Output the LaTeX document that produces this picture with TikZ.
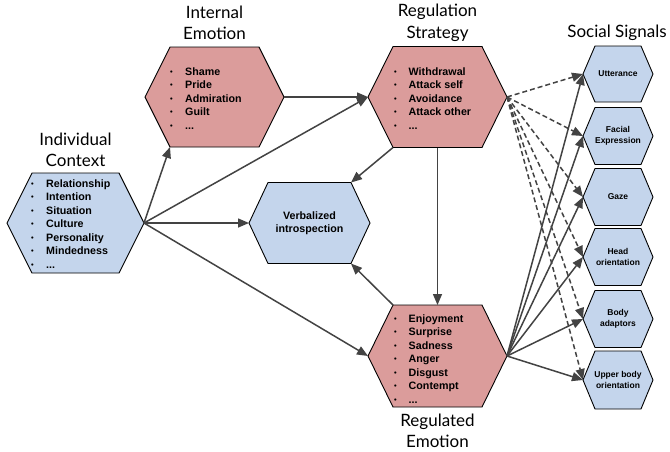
\documentclass[tikz,border=0pt]{standalone}
\usepackage{fontspec}
\setmainfont{Liberation Sans}
\newfontfamily\latofont{Lato}
\usetikzlibrary{arrows.meta}
\definecolor{pinkfill}{HTML}{DB9C9B}
\definecolor{bluefill}{HTML}{C4D5EC}
\definecolor{arrowgray}{HTML}{434343}

\newcommand\hexat[6]{%
  \path (#2,#3) coordinate (#1)
    +(-#4,0) coordinate (#1-l)
    +({-#4+#6},{-#5}) coordinate (#1-tl)
    +({#4-#6},{-#5}) coordinate (#1-tr)
    +(#4,0) coordinate (#1-r)
    +({#4-#6},{#5}) coordinate (#1-br)
    +({-#4+#6},{#5}) coordinate (#1-bl)
    +(0,{-#5}) coordinate (#1-t)
    +(0,{#5}) coordinate (#1-b);
}
\newcommand\hexdraw[2]{%
  \draw[#2] (#1-l) -- (#1-tl) -- (#1-tr) -- (#1-r) -- (#1-br) -- (#1-bl) -- cycle;
}
\newcommand\bt{\raisebox{0.9pt}{\fontsize{7.5}{8}\selectfont\textbullet}}

\begin{document}
\begin{tikzpicture}[x=1pt,y=-1pt,
  hexpink/.style={fill=pinkfill,draw=black,line width=0.9pt,line join=miter},
  hexblue/.style={fill=bluefill,draw=black,line width=0.9pt,line join=miter},
  heading/.style={font=\latofont\fontsize{17}{21.5}\selectfont,align=center,inner sep=0pt},
  listtext/.style={font=\bfseries\fontsize{10.7}{13.5}\selectfont,inner sep=0pt,anchor=base west},
  bigtext/.style={font=\bfseries\fontsize{10.7}{13.5}\selectfont,align=center,inner sep=0pt},
  smalltext/.style={font=\bfseries\fontsize{8.5}{11.5}\selectfont,align=center,inner sep=0pt},
  conn/.style={draw=arrowgray,line width=1.5pt,-{Triangle[length=11pt,width=9pt]}},
  dconn/.style={conn,dash pattern=on 5pt off 3pt}
]
\useasboundingbox (0,0) rectangle (670,451);

% hexagon geometry
\hexat{ic}{75.5}{223}{68.5}{50}{25}
\hexat{ie}{214.5}{97}{69.5}{50}{25}
\hexat{rs}{437.5}{97}{69.5}{50.5}{25}
\hexat{re}{437.5}{356}{69.5}{51}{25}
\hexat{vi}{309.5}{223}{60.5}{40.5}{19}
\hexat{s1}{618}{74}{35}{28}{12}
\hexat{s2}{618}{136}{35}{28.5}{12}
\hexat{s3}{618}{197}{35}{28.5}{12}
\hexat{s4}{618}{257}{35}{28.5}{12}
\hexat{s5}{618}{319}{35}{28.5}{12}
\hexat{s6}{618}{380}{35}{29}{12}

\hexdraw{ic}{hexblue}
\hexdraw{ie}{hexpink}
\hexdraw{rs}{hexpink}
\hexdraw{re}{hexpink}
\hexdraw{vi}{hexblue}
\foreach \s in {s1,s2,s3,s4,s5,s6}{\hexdraw{\s}{hexblue}}

% headings
\node[heading] (ic-title) at (75.5,150) {Individual\\Context};
\node[heading] (ie-title) at (214.5,23) {Internal\\Emotion};
\node[heading] (rs-title) at (437.5,23) {Regulation\\Strategy};
\node[heading] (re-title) at (437.5,431) {Regulated\\Emotion};
\node[heading] (ss-title) at (617,33) {Social Signals};

% list texts
\node[listtext] (ic-list) at (31,187) {\begin{tabular}[t]{@{}p{15pt}@{}l@{}}
\bt & Relationship\\ \bt & Intention\\ \bt & Situation\\ \bt & Culture\\ \bt & Personality\\ \bt & Mindedness\\ \bt & ...\end{tabular}};
\node[listtext] (ie-list) at (170,75) {\begin{tabular}[t]{@{}p{15pt}@{}l@{}}
\bt & Shame\\ \bt & Pride\\ \bt & Admiration\\ \bt & Guilt\\ \bt & ...\end{tabular}};
\node[listtext] (rs-list) at (394,75) {\begin{tabular}[t]{@{}p{14.5pt}@{}l@{}}
\bt & Withdrawal\\ \bt & Attack self\\ \bt & Avoidance\\ \bt & Attack other\\ \bt & ...\end{tabular}};
\node[listtext] (re-list) at (394,322) {\begin{tabular}[t]{@{}p{14.5pt}@{}l@{}}
\bt & Enjoyment\\ \bt & Surprise\\ \bt & Sadness\\ \bt & Anger\\ \bt & Disgust\\ \bt & Contempt\\ \bt & ...\end{tabular}};
\node[bigtext] (vi-text) at (vi) {Verbalized\\introspection};

\node[smalltext] (s1-text) at (s1) {Utterance};
\node[smalltext] (s2-text) at (s2) {Facial\\Expression};
\node[smalltext] (s3-text) at (s3) {Gaze};
\node[smalltext] (s4-text) at (s4) {Head\\orientation};
\node[smalltext] (s5-text) at (s5) {Body\\adaptors};
\node[smalltext] (s6-text) at (s6) {Upper body\\orientation};

% connectors
\draw[conn] (ic-r) -- (ie-bl);
\draw[conn] (ic-r) -- (rs-l);
\draw[conn] (ic-r) -- (vi-l);
\draw[conn] (ic-r) -- (re-l);
\draw[conn] (ie-r) -- (rs-l);
\draw[conn] (rs-bl) -- (vi-tr);
\draw[conn] (re-tl) -- (vi-br);
\draw[conn] (rs-b) -- (re-t);
\foreach \s in {s1,s2,s3,s4,s5,s6}{
  \draw[dconn] (rs-r) -- (\s-l);
  \draw[conn] (re-r) -- (\s-l);
}
\end{tikzpicture}
\end{document}
